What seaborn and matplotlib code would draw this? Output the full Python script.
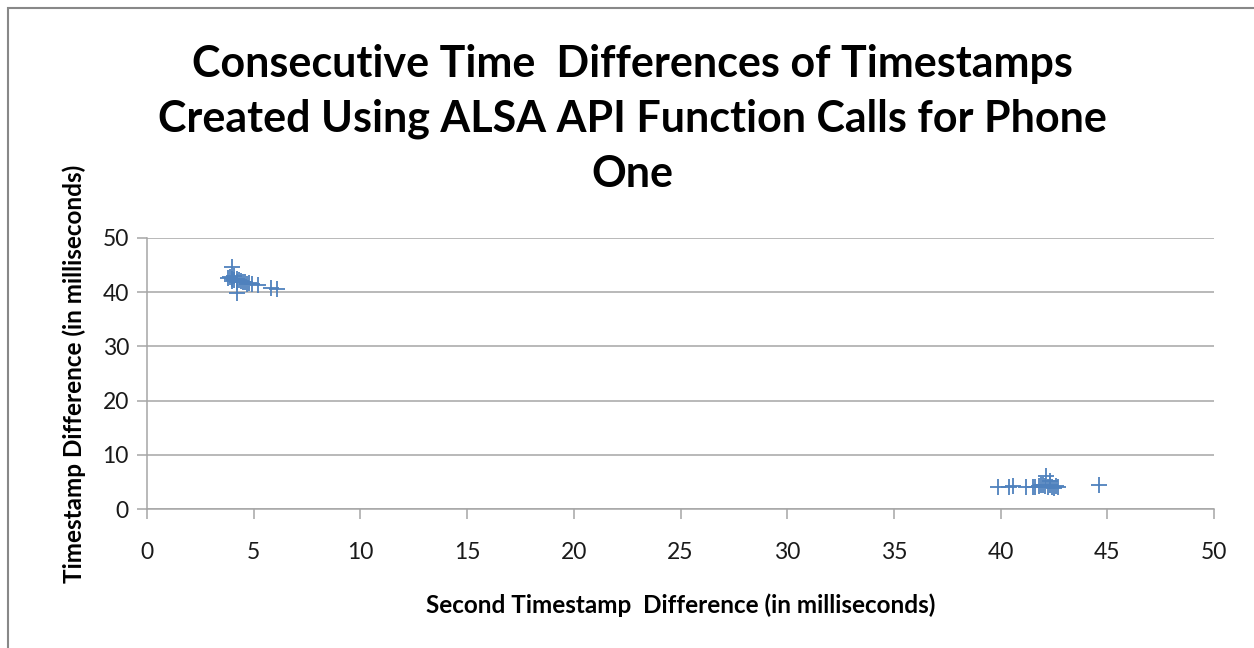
import matplotlib
matplotlib.use("Agg")
import matplotlib.pyplot as plt
import seaborn as sns
import pandas as pd
from matplotlib.patches import Rectangle

# Data (ms)
first_diff = [3.8, 3.9, 4.0, 4.0, 4.1, 4.1, 4.2, 4.2, 4.3, 4.4, 4.5, 4.6, 4.7, 4.8, 4.9, 3.98, 4.2, 5.2, 5.8, 6.1,
              39.9, 40.4, 40.6, 41.2, 41.5, 41.6, 41.8, 41.9, 42.0, 42.1, 42.2, 42.3, 42.4, 42.5, 42.6, 42.7, 42.15, 42.3, 44.6]
second_diff = [42.6, 42.8, 42.5, 42.0, 42.9, 42.3, 42.4, 41.9, 42.2, 42.1, 41.8, 41.9, 41.6, 41.7, 41.5, 44.6, 39.8, 41.3, 40.8, 40.6,
               4.0, 4.0, 4.2, 4.1, 4.0, 4.1, 4.3, 4.5, 4.4, 4.2, 4.0, 4.5, 4.1, 3.9, 4.2, 4.1, 6.0, 5.2, 4.4]

df = pd.DataFrame({"x": first_diff, "y": second_diff})

title = "Consecutive Time  Differences of Timestamps\nCreated Using ALSA API Function Calls for Phone\nOne"
xlabel = "Second Timestamp  Difference (in milliseconds)"
ylabel = "Timestamp Difference (in milliseconds)"

sns.set_theme(style="white")
plt.rcParams["font.family"] = ["Lato", "DejaVu Sans"]

fig = plt.figure(figsize=(12.54, 6.48), dpi=100)
ax = fig.add_axes([147/1254, 1-509/648, (1214-147)/1254, (509-238)/648])

sns.scatterplot(data=df, x="x", y="y", marker="+", s=120, color="#4F81BD",
                linewidth=1.3, ax=ax, legend=False)

ax.set_xlim(0, 50)
ax.set_ylim(0, 50)
ax.set_xticks(range(0, 51, 5))
ax.set_yticks(range(0, 51, 10))
ax.yaxis.grid(True, color="#A6A6A6", linewidth=1.1)
ax.xaxis.grid(False)
for s in ["top", "right"]:
    ax.spines[s].set_visible(False)
for s in ["left", "bottom"]:
    ax.spines[s].set_color("#A6A6A6")
    ax.spines[s].set_linewidth(1.1)
ax.tick_params(axis="both", which="both", direction="out", length=7, width=1.1,
               color="#A6A6A6", labelsize=16.5, labelcolor="#1a1a1a")
ax.tick_params(axis="x", pad=17)
ax.tick_params(axis="y", pad=6)
ax.tick_params(bottom=True, left=True)

ax.set_xlabel(xlabel, fontsize=17.5, fontweight="bold", labelpad=22, color="black")
ax.set_ylabel(ylabel, fontsize=17.5, fontweight="bold", labelpad=12, color="black")

fig.text(632/1254, 1-119/648, title, ha="center", va="center", fontsize=31,
         fontweight="bold", linespacing=1.45, color="black")

fig.patches.append(Rectangle((8/1254, -0.1), 2.0, 1-8/648+0.1, transform=fig.transFigure,
                             fill=False, edgecolor="#888888", linewidth=1.5))

fig.savefig("out.png", dpi=100)
